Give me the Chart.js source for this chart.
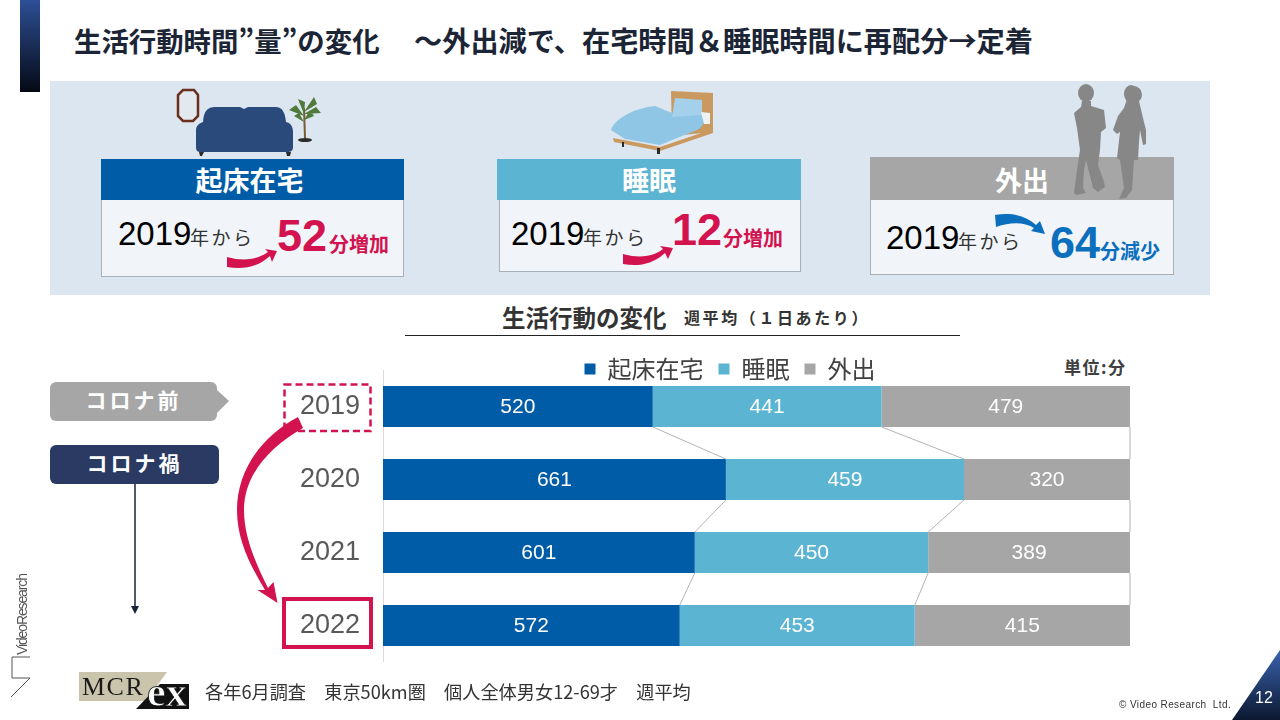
<!DOCTYPE html>
<html lang="ja">
<head>
<meta charset="utf-8">
<title>生活行動時間の変化</title>
<script src="https://cdn.jsdelivr.net/npm/chart.js@4"></script>
<style>
html, body { margin: 0; padding: 0; background: #fff; }
#slide { position: relative; width: 1280px; height: 720px; overflow: hidden; font-family: "Noto Sans CJK JP", sans-serif; }
#slide div { position: absolute; white-space: nowrap; }
#chart { position: absolute; left: 280px; top: 350px; }
#art { position: absolute; left: 0; top: 0; }
.num { font-family: "Liberation Sans", sans-serif; }
.cardHead { color: #fff; font-weight: 700; font-size: 27px; text-align: center; line-height: 41px; height: 41px; }
.cardBody { background: #f1f5fa; border: 1px solid #a7afb9; border-top: none; box-sizing: border-box; }
.kara { font-size: 19px; line-height: 26px; color: #333; letter-spacing: 2.5px; }
.tag { color: #fff; font-weight: 700; font-size: 21px; letter-spacing: 3px; text-align: center; line-height: 35px; height: 39px; border-radius: 6px; }
</style>
</head>
<body>
<div id="slide">
  <div style="left:20px;top:0;width:20px;height:92px;background:linear-gradient(#2d4f96,#050914)"></div>
  <div style="left:74px;top:20px;font-size:27.4px;font-weight:700;color:#1c2536;line-height:40px">生活行動時間”量”の変化</div>
  <div style="left:414px;top:20px;font-size:28.2px;font-weight:700;color:#1c2536;line-height:40px">〜外出減で、在宅時間＆睡眠時間に再配分→定着</div>

  <div style="left:50px;top:81px;width:1160px;height:214px;background:#dce6f0"></div>

  <!-- cards -->
  <div class="cardHead" style="left:101px;top:159px;width:297px;padding-right:6px;background:#005ca6">起床在宅</div>
  <div class="cardBody" style="left:101px;top:200px;width:303px;height:77px"></div>
  <div class="cardHead" style="left:497px;top:159px;width:304px;background:#5bb5d2">睡眠</div>
  <div class="cardBody" style="left:499px;top:200px;width:302px;height:72px"></div>
  <div class="cardHead" style="left:870px;top:157px;width:304px;height:43px;line-height:46px;background:#a6a6a6">外出</div>
  <div class="cardBody" style="left:870px;top:200px;width:304px;height:75px"></div>

  <div class="num" style="left:118px;top:214px;font-size:33px;line-height:40px">2019</div>
  <div class="kara" style="left:190px;top:224px">年から</div>
  <div class="num" style="left:277px;top:210px;font-size:45px;line-height:52px;font-weight:700;color:#d3134f">52</div>
  <div style="left:329px;top:229px;font-size:20px;line-height:30px;font-weight:700;color:#d3134f">分増加</div>

  <div class="num" style="left:511px;top:214px;font-size:33px;line-height:40px">2019</div>
  <div class="kara" style="left:583px;top:224px">年から</div>
  <div class="num" style="left:672px;top:204px;font-size:45px;line-height:52px;font-weight:700;color:#d3134f">12</div>
  <div style="left:723px;top:223px;font-size:20px;line-height:30px;font-weight:700;color:#d3134f">分増加</div>

  <div class="num" style="left:886px;top:218px;font-size:33px;line-height:40px">2019</div>
  <div class="kara" style="left:958px;top:228px">年から</div>
  <div class="num" style="left:1050px;top:217px;font-size:45px;line-height:52px;font-weight:700;color:#0b6fbe">64</div>
  <div style="left:1100px;top:236px;font-size:20px;line-height:30px;font-weight:700;color:#0b6fbe">分減少</div>

  <!-- chart heading -->
  <div style="left:502px;top:300px;font-size:23.5px;line-height:34px;font-weight:700;color:#333">生活行動の変化</div>
  <div style="left:684px;top:305px;font-size:16px;line-height:24px;font-weight:700;color:#333;letter-spacing:2.6px">週平均（１日あたり）</div>
  <div style="left:405px;top:335px;width:555px;height:1px;background:#222"></div>
  <div style="left:1064px;top:354px;font-size:17px;line-height:26px;font-weight:700;color:#404040;letter-spacing:1.5px">単位:分</div>

  <canvas id="chart" width="899" height="312"></canvas>

  <div class="tag" style="left:50px;top:382px;width:167px;background:#a6a6a6">コロナ前</div>
  <div class="tag" style="left:50px;top:445px;width:169px;background:#2a3a63">コロナ禍</div>

  <svg id="art" width="1280" height="720" viewBox="0 0 1280 720">
    <!-- pointer of the grey tag, timeline arrow -->
    <polygon points="217,390 229,401 217,413" fill="#a6a6a6"/>
    <line x1="135" y1="484" x2="135" y2="608" stroke="#1a2238" stroke-width="1.5"/>
    <polygon points="131,606 139,606 135,614" fill="#1a2238"/>

    <!-- 2019 / 2022 frames and the big arrow -->
    <rect x="284.5" y="384.5" width="86" height="46.5" fill="none" stroke="#d3134f" stroke-width="2.5" stroke-dasharray="7 4"/>
    <rect x="284" y="599" width="87" height="48" fill="none" stroke="#d3134f" stroke-width="4"/>
    <path d="M298 417 C262 436 237 470 237 510 C237 540 250 565 265 590 L257.5 590 L277.5 603 L273.5 582 L268 588 C254 560 244 535 244 510 C244 476 268 448 303 428 Z" fill="#d3134f"/>

    <!-- small arrows in the cards -->
    <path d="M227 257 C245 262 258 259 268 252 L265 249 L277 251 L272 262 L270 256 C258 267 243 270 227 267 Z" fill="#d3134f"/>
    <path d="M623 254 C641 259 654 256 663 249 L660 246 L673 248 L668 259 L665 253 C653 264 639 267 623 264 Z" fill="#d3134f"/>
    <path d="M995 215 C1012 212 1026 216 1036 225 L1040 221 L1045 234 L1031 231 L1034 228 C1024 222 1011 222 996 227 Z" fill="#0b6fbe"/>

    <!-- mirror -->
    <polygon points="183,90 194,90 198,95 198,116 193,121 183,121 178,116 178,95" fill="#e2e9ef" stroke="#6b2f1e" stroke-width="2.5"/>
    <!-- sofa -->
    <path d="M203 126 C203 111 207 107 216 107 L240 107 L244 109 L248 107 L275 107 C283 107 285 113 286 122 C291 123 293 127 293 132 L293 147 C293 151 291 152 287 152 L201 152 C197 152 196 150 196 147 L196 131 C196 126 198 124 203 122 Z" fill="#2a4a7c"/>
    <polygon points="199,152 204,152 202,156 200,156" fill="#2b2b2b"/>
    <polygon points="286,152 291,152 290,156 287,156" fill="#2b2b2b"/>
    <!-- plant -->
    <line x1="305" y1="138" x2="304" y2="108" stroke="#7b5a35" stroke-width="2"/>
    <ellipse cx="305" cy="140" rx="7" ry="2" fill="#2b2b2b"/>
    <path d="M304 116 L289 110 L296 105 Z M304 114 L298 99 L305 102 Z M304 112 L314 97 L317 104 Z M304 114 L321 113 L316 107 Z M304 122 L294 116 L299 113 Z M304 120 L314 116 L310 110 Z" fill="#4f7a3a"/>
    <!-- bed -->
    <polygon points="671,91 713,93 713,132 672,136" fill="#c9995f"/>
    <polygon points="613,138 660,147 713,129 713,133 660,151 614,142" fill="#c9995f"/>
    <rect x="657" y="148" width="3" height="6" fill="#2b2b2b"/>
    <rect x="622" y="142" width="2" height="5" fill="#2b2b2b"/>
    <path d="M611 130 C615 118 635 108 655 106 L672 113 L703 112 C706 118 705 126 697 130 L660 145 L625 139 Z" fill="#8fc6e6"/>
    <polygon points="675,98 702,100 702,115 672,117" fill="#a4d0ec"/>
    <polygon points="701,112 710,113 710,124 704,124" fill="#eef2f4"/>
    <!-- silhouettes -->
    <g fill="#878787">
      <ellipse cx="1086" cy="93" rx="8" ry="9"/>
      <path d="M1082 101 L1091 101 L1091 106 L1104 110 L1106 128 L1101 132 L1100 150 L1098 165 L1104 182 L1105 187 L1098 192 L1093 188 L1086 160 L1084 170 L1083 188 L1086 193 L1076 195 L1074 193 L1077 170 L1080 150 L1077 128 L1074 113 L1081 107 Z"/>
      <ellipse cx="1131" cy="94" rx="7" ry="9"/>
      <path d="M1133 86 C1143 86 1144 98 1139 101 L1143 118 L1146 130 L1146 144 L1143 145 L1140 130 L1139 142 L1138 160 L1134 160 L1132 190 L1126 198 L1119 199 L1124 188 L1120 160 L1117 158 L1120 132 L1117 134 L1113 130 L1118 116 L1124 108 L1126 102 Z"/>
    </g>

    <!-- logo at the left -->
    <text transform="translate(27,655) rotate(-90)" font-family="Liberation Sans" font-size="14" fill="#555" textLength="82">VideoResearch</text>
    <polyline points="30,657 12,657 12,678 30,678 11,697" fill="none" stroke="#555" stroke-width="1"/>

    <!-- MCR ex mark -->
    <polygon points="79,672 167,672 146,701 79,701" fill="#cbc4ac"/>
    <text x="82" y="695" font-family="Liberation Serif" font-size="26" letter-spacing="1.5" fill="#1a1a1a">MCR</text>
    <polygon points="136,709 160,684 189,684 189,709" fill="#111"/>
    <text x="147" y="706" font-family="Liberation Serif" font-weight="700" font-size="42" fill="#fff" stroke="#111" stroke-width=".8">ex</text>

    <!-- corner -->
    <defs><linearGradient id="corner" x1="0" y1="0" x2="0" y2="1"><stop offset="0" stop-color="#3a62ad"/><stop offset="1" stop-color="#0c1830"/></linearGradient></defs>
    <polygon points="1280,650 1280,720 1232,720" fill="url(#corner)"/>
  </svg>

  <div style="left:205px;top:677px;font-size:18.2px;line-height:28px;color:#333">各年6月調査　東京50km圏　個人全体男女12-69才　週平均</div>
  <div class="num" style="left:1119px;top:698px;font-size:10px;line-height:14px;color:#333;letter-spacing:.4px">© Video Research&nbsp; Ltd.</div>
  <div class="num" style="left:1255px;top:688px;font-size:16px;line-height:20px;color:#fff">12</div>
</div>

<script>
// データ
const years = ['2019', '2020', '2021', '2022'];
const seriesNames = ['起床在宅', '睡眠', '外出'];
const zaitaku = [520, 661, 601, 572];
const suimin = [441, 459, 450, 453];
const gaishutsu = [479, 320, 389, 415];
const colors = ['#005ca6', '#5bb5d2', '#a6a6a6'];

// 棒の中の数値
const barValues = {
    id: 'barValues',
    afterDatasetsDraw(chart) {
        const ctx = chart.ctx;
        ctx.save();
        ctx.fillStyle = '#fff';
        ctx.font = '21px "Liberation Sans"';
        ctx.textAlign = 'center';
        ctx.textBaseline = 'middle';
        chart.data.datasets.forEach(function (ds, d) {
            chart.getDatasetMeta(d).data.forEach(function (bar, i) {
                ctx.fillText(ds.data[i], (bar.x + bar.base) / 2, bar.y + 1);
            });
        });
        ctx.restore();
    }
};

// 棒と棒をつなぐ線
const seriesLines = {
    id: 'seriesLines',
    afterDatasetsDraw(chart) {
        const ctx = chart.ctx;
        ctx.save();
        ctx.strokeStyle = '#b3b3b3';
        ctx.lineWidth = 1;
        chart.data.datasets.forEach(function (ds, d) {
            const bars = chart.getDatasetMeta(d).data;
            for (let i = 0; i < bars.length - 1; i++) {
                ctx.beginPath();
                ctx.moveTo(bars[i].x, bars[i].y + bars[i].height / 2);
                ctx.lineTo(bars[i + 1].x, bars[i + 1].y - bars[i + 1].height / 2);
                ctx.stroke();
            }
        });
        ctx.restore();
    }
};

// 凡例は棒のすぐ上に重ねて置く(高さを詰めて、クリップせず少しずらす)
const shortLegend = {
    id: 'shortLegend',
    beforeInit(chart) {
        const legend = chart.legend;
        const fit = legend.fit;
        legend.fit = function () {
            fit.call(this);
            this.height = 20;
        };
        legend.draw = function () {
            const ctx = this.ctx;
            ctx.save();
            ctx.translate(25, -8);
            this._draw();
            ctx.restore();
        };
    }
};

new Chart(document.getElementById('chart'), {
    type: 'bar',
    data: {
        labels: years,
        datasets: [
            { label: seriesNames[0], data: zaitaku, backgroundColor: colors[0] },
            { label: seriesNames[1], data: suimin, backgroundColor: colors[1] },
            { label: seriesNames[2], data: gaishutsu, backgroundColor: colors[2] }
        ]
    },
    options: {
        indexAxis: 'y',
        responsive: false,
        animation: false,
        categoryPercentage: 1,
        barPercentage: 0.56,
        layout: { padding: { right: 49 } },
        scales: {
            x: { stacked: true, min: 0, max: 1440, display: false },
            y: {
                stacked: true,
                // 目盛ラベル分の余白を足さない
                afterFit(scale) {
                    scale.width = 103;
                    scale.paddingTop = 0;
                    scale.paddingBottom = 0;
                },
                grid: { display: false, drawTicks: false },
                border: { color: '#d9d9d9' },
                ticks: {
                    color: '#595959',
                    padding: 23,
                    font: { family: '"Liberation Sans"', size: 27 }
                }
            }
        },
        plugins: {
            tooltip: { enabled: false },
            legend: {
                position: 'top',
                labels: {
                    boxWidth: 11,
                    boxHeight: 11,
                    padding: 15,
                    color: '#404040',
                    font: { family: '"Noto Sans CJK JP"', size: 24 }
                }
            }
        }
    },
    plugins: [shortLegend, barValues, seriesLines]
});
</script>
</body>
</html>
